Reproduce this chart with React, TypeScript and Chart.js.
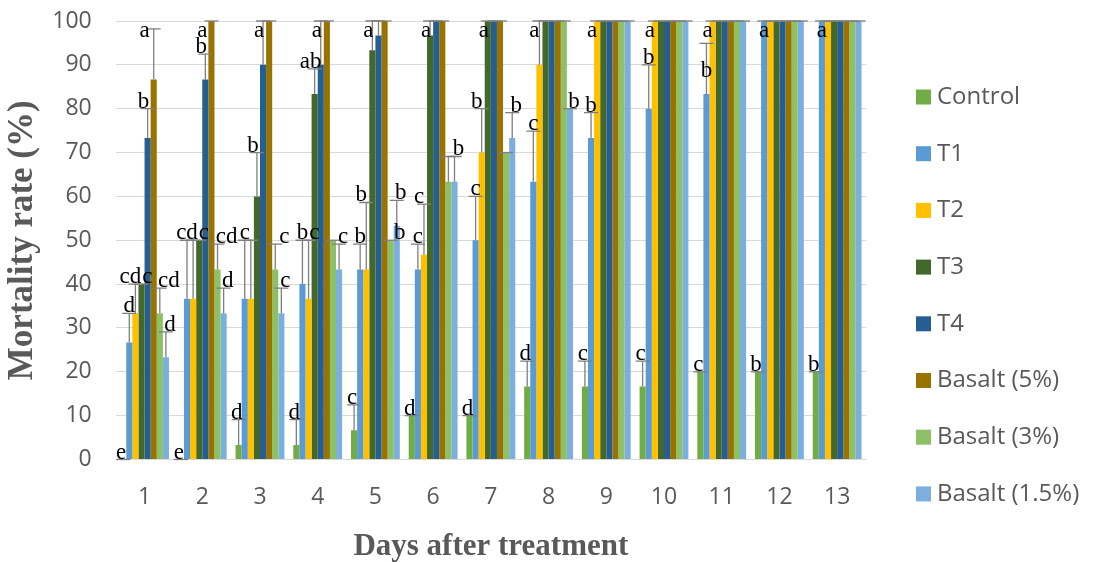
import React, { useEffect, useRef } from "react";
import { Chart, registerables } from "chart.js";

Chart.register(...registerables);

// ---------- data ----------
const days = ["1", "2", "3", "4", "5", "6", "7", "8", "9", "10", "11", "12", "13"];
const seriesNames = ["Control", "T1", "T2", "T3", "T4", "Basalt (5%)", "Basalt (3%)", "Basalt (1.5%)"];

const control = [0, 0, 3.33, 3.33, 6.67, 10, 10, 16.67, 16.67, 16.67, 20, 20, 20];
const t1 = [26.67, 36.67, 36.67, 40, 43.33, 43.33, 50, 63.33, 73.33, 80, 83.33, 100, 100];
const t2 = [33.33, 36.67, 36.67, 36.67, 43.33, 46.67, 70, 90, 100, 100, 100, 100, 100];
const t3 = [40, 50, 60, 83.33, 93.33, 96.67, 100, 100, 100, 100, 100, 100, 100];
const t4 = [73.33, 86.67, 90, 90, 96.67, 100, 100, 100, 100, 100, 100, 100, 100];
const basalt5 = [86.67, 100, 100, 100, 100, 100, 100, 100, 100, 100, 100, 100, 100];
const basalt3 = [33.33, 43.33, 43.33, 50, 50, 63.33, 70, 100, 100, 100, 100, 100, 100];
const basalt15 = [23.33, 33.33, 33.33, 43.33, 53.33, 63.33, 73.33, 80, 100, 100, 100, 100, 100];

// upper error (standard error) per bar
const controlErr = [0, 0, 5.77, 5.77, 5.77, 0, 0, 5.77, 5.77, 5.77, 0, 0, 0];
const t1Err = [6.67, 13.33, 13.33, 10, 5.77, 5.77, 10, 11.55, 5.77, 10, 11.55, 0, 0];
const t2Err = [6.67, 13.33, 13.33, 13.33, 15.28, 11.55, 10, 10, 0, 0, 0, 0, 0];
const t3Err = [0, 0, 10, 5.77, 6.67, 3.33, 0, 0, 0, 0, 0, 0, 0];
const t4Err = [6.67, 5.77, 10, 10, 3.33, 0, 0, 0, 0, 0, 0, 0, 0];
const basalt5Err = [11.55, 0, 0, 0, 0, 0, 0, 0, 0, 0, 0, 0, 0];
const basalt3Err = [5.77, 5.77, 5.77, 0, 0, 5.77, 0, 0, 0, 0, 0, 0, 0];
const basalt15Err = [5.77, 5.77, 5.77, 5.77, 5.77, 5.77, 5.77, 0, 0, 0, 0, 0, 0];

// significance letters
const controlLetters = ["e", "e", "d", "d", "c", "d", "d", "d", "c", "c", "c", "b", "b"];
const t1Letters = ["d", "cd", "c", "b", "b", "c", "c", "c", "b", "b", "b", "a", "a"];
const t2Letters = ["cd", "", "", "c", "b", "c", "b", "a", "a", "a", "a", "", ""];
const t3Letters = ["c", "c", "b", "ab", "a", "a", "a", "", "", "", "", "", ""];
const t4Letters = ["b", "b", "a", "a", "", "", "", "", "", "", "", "", ""];
const basalt5Letters = ["a", "a", "", "", "", "", "", "", "", "", "", "", ""];
const basalt3Letters = ["cd", "cd", "c", "", "b", "", "", "", "", "", "", "", ""];
const basalt15Letters = ["d", "d", "c", "c", "b", "b", "b", "b", "", "", "", "", ""];

const seriesValues = [control, t1, t2, t3, t4, basalt5, basalt3, basalt15];
const seriesErrors = [controlErr, t1Err, t2Err, t3Err, t4Err, basalt5Err, basalt3Err, basalt15Err];
const seriesLetters = [controlLetters, t1Letters, t2Letters, t3Letters, t4Letters, basalt5Letters, basalt3Letters, basalt15Letters];

// ---------- styles ----------
const colors = ["#70AD47", "#5B9BD5", "#FFC000", "#43682B", "#255E91", "#997300", "#8CC168", "#7CAFDD"];
const letterDx = [-2, 0, -5, -4, -4, -9, 9, 4];
const axisGray = "#595959";

const errorPlugin = {
  id: "errorLetters",
  afterDatasetsDraw(chart: any) {
    const ctx = chart.ctx;
    const yScale = chart.scales.y;
    const top = chart.chartArea.top;
    ctx.save();
    ctx.strokeStyle = "#7f7f7f";
    ctx.lineWidth = 1.3;
    chart.data.datasets.forEach((ds: any, i: number) => {
      const meta = chart.getDatasetMeta(i);
      meta.data.forEach((el: any, j: number) => {
        const v = seriesValues[i][j];
        const e = seriesErrors[i][j];
        const yTop = yScale.getPixelForValue(Math.min(100, v + e));
        const yBar = yScale.getPixelForValue(v);
        ctx.beginPath();
        if (e > 0) {
          ctx.moveTo(el.x, yBar);
          ctx.lineTo(el.x, yTop);
        }
        ctx.moveTo(el.x - 7, yTop);
        ctx.lineTo(el.x + 7, yTop);
        ctx.stroke();
      });
    });

    // significance letters with simple collision avoidance
    ctx.fillStyle = "#000";
    ctx.font = "23px 'Liberation Serif', 'Times New Roman', serif";
    ctx.textAlign = "center";
    ctx.textBaseline = "alphabetic";
    const placed: any[] = [];
    days.forEach((_, j) => {
      const items: any[] = [];
      seriesNames.forEach((__, i) => {
        const txt = seriesLetters[i][j];
        if (!txt) return;
        const el = chart.getDatasetMeta(i).data[j];
        const v = seriesValues[i][j];
        const cap = Math.min(100, v + seriesErrors[i][j]);
        items.push({ i, txt, el, v, cap });
      });
      items.sort((a, b) => Math.round(b.cap) - Math.round(a.cap));
      items.forEach((it) => {
        const w = ctx.measureText(it.txt).width;
        const yTop = yScale.getPixelForValue(it.cap);
        const yBar = yScale.getPixelForValue(it.v);
        let cx = it.el.x + letterDx[it.i];
        let by = Math.max(yTop - 1, top + 16);
        for (const b of placed) {
          const overlapX = cx - w / 2 < b.x2 && cx + w / 2 > b.x1;
          const overlapY = by - 16 < b.y2 && by > b.y1;
          if (overlapX && overlapY) {
            if (it.cap < b.cap - 2) {
              by = (yTop + yBar) / 2 + 8;
            } else {
              cx = b.x2 + 1 + w / 2;
            }
          }
        }
        placed.push({ x1: cx - w / 2, x2: cx + w / 2, y1: by - 16, y2: by, cap: it.cap });
        ctx.fillText(it.txt, cx, by);
      });
    });
    ctx.restore();
  },
  afterDraw(chart: any) {
    const ctx = chart.ctx;
    ctx.save();
    ctx.font = "24px 'Open Sans', sans-serif";
    ctx.textBaseline = "middle";
    ctx.textAlign = "left";
    chart.data.datasets.forEach((ds: any, i: number) => {
      const cy = 97 + i * 56.7;
      ctx.fillStyle = ds.backgroundColor;
      ctx.fillRect(916, cy - 7.5, 15, 15);
      ctx.fillStyle = axisGray;
      ctx.fillText(ds.label, 937, cy);
    });
    ctx.restore();
  },
};

export default function App() {
  const canvasRef = useRef<HTMLCanvasElement | null>(null);

  useEffect(() => {
    if (!canvasRef.current) return;
    const chart = new Chart(canvasRef.current, {
      type: "bar",
      data: {
        labels: days,
        datasets: seriesNames.map((name, i) => ({
          label: name,
          data: seriesValues[i],
          backgroundColor: colors[i],
          borderWidth: 0,
          categoryPercentage: 0.846,
          barPercentage: 1.0,
        })),
      },
      options: {
        responsive: false,
        animation: false,
        layout: { padding: { left: 0, right: 228, top: 21, bottom: 0 } },
        plugins: {
          legend: { display: false },
          tooltip: { enabled: false },
        },
        scales: {
          x: {
            grid: { display: false },
            border: { display: false },
            ticks: {
              color: axisGray,
              font: { family: "'Open Sans', sans-serif", size: 23 },
              padding: 16,
              maxRotation: 0,
            },
            title: {
              display: true,
              text: "Days after treatment",
              color: axisGray,
              font: { family: "'Liberation Serif', 'Times New Roman', serif", size: 31, weight: "bold", lineHeight: 1 },
              padding: { top: 0, bottom: 0 },
            },
            afterFit: (s: any) => {
              s.height = 102.5;
            },
          },
          y: {
            min: 0,
            max: 100,
            grid: {
              color: "#d9d9d9",
              lineWidth: 1,
              drawTicks: true,
              tickLength: 22,
              tickColor: "rgba(0,0,0,0)",
            },
            border: { display: false },
            ticks: {
              stepSize: 10,
              color: axisGray,
              font: { family: "'Open Sans', sans-serif", size: 23 },
              padding: 2,
            },
            title: {
              display: true,
              text: "Mortality rate (%)",
              color: axisGray,
              font: { family: "'Liberation Serif', 'Times New Roman', serif", size: 35, weight: "bold", lineHeight: 1 },
              padding: { top: 5, bottom: 0 },
            },
            afterFit: (s: any) => {
              s.width = 115.7;
            },
          },
        },
      },
      plugins: [errorPlugin],
    });
    return () => chart.destroy();
  }, []);

  return (
    <div style={{ position: "absolute", left: 0, top: 0, width: 1094, height: 562, background: "#fff" }}>
      <canvas ref={canvasRef} width={1094} height={562} />
    </div>
  );
}
